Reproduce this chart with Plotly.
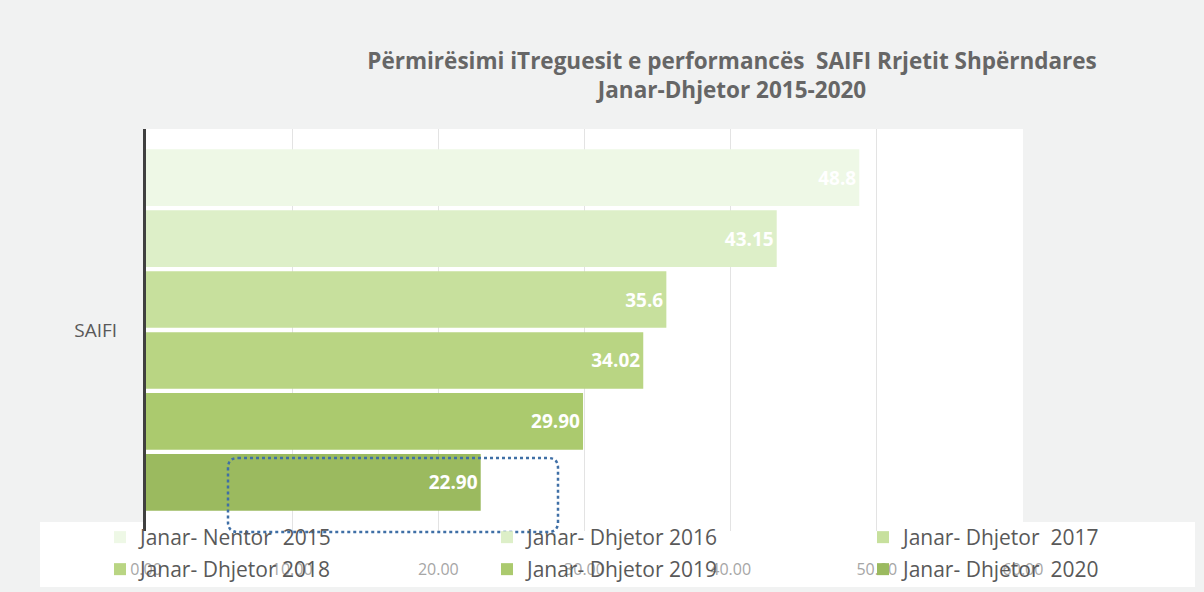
import plotly.graph_objects as go

# ---- data ----
categories = ["SAIFI"]
series_names = [
    "Janar- Nentor  2015",
    "Janar- Dhjetor 2016",
    "Janar- Dhjetor  2017",
    "Janar- Dhjetor 2018",
    "Janar- Dhjetor 2019",
    "Janar- Dhjetor  2020",
]
series_values = [48.80, 43.15, 35.6, 34.02, 29.90, 22.90]
value_labels = ["48.8", "43.15", "35.6", "34.02", "29.90", "22.90"]
x_tick_values = [0, 10, 20, 30, 40, 50, 60]
x_tick_labels = ["0.00", "10.00", "20.00", "30.00", "40.00", "50.00", "60.00"]

colors = ["#eef8e6", "#ddefc8", "#c7e09d", "#b9d583", "#abca6e", "#9bba5f"]

L, R, T, B = 146, 181, 129, 61
W, H = 1204, 592
plot_w = W - L - R
plot_h = H - T - B

def px_to_x(px):
    return (px - L) / plot_w * 60.0

def px_to_py(py):
    return (H - B - py) / plot_h

def px_to_px(px):
    return (px - L) / plot_w

legend_ids = ["legend", "legend2", "legend3", "legend4", "legend5", "legend6"]
# legend slot (text start x, row center y) in pixels
legend_text_x = [140, 527, 903, 140, 527, 903]
legend_row_y = [537, 537, 537, 569, 569, 569]

fig = go.Figure()
for name, val, lab, col, lid in zip(series_names, series_values, value_labels, colors, legend_ids):
    fig.add_trace(go.Bar(
        name=name, y=categories, x=[val], orientation="h",
        marker=dict(color=col, line=dict(width=0)),
        text=[lab], textposition="inside", insidetextanchor="end",
        textfont=dict(color="white", size=19, family="Open Sans"),
        texttemplate="<b>%{text}</b>",
        cliponaxis=False, legend=lid, showlegend=True,
    ))

# rounded dotted rectangle
x0, x1 = px_to_x(228), px_to_x(558)
y0, y1 = px_to_py(532), px_to_py(458)
rx = 10 / plot_w * 60.0
ry = 10 / plot_h
path = (f"M {x0+rx},{y1} L {x1-rx},{y1} Q {x1},{y1} {x1},{y1-ry} "
        f"L {x1},{y0+ry} Q {x1},{y0} {x1-rx},{y0} L {x0+rx},{y0} "
        f"Q {x0},{y0} {x0},{y0+ry} L {x0},{y1-ry} Q {x0},{y1} {x0+rx},{y1} Z")

legend_layouts = {}
for lid, tx, ry_ in zip(legend_ids, legend_text_x, legend_row_y):
    legend_layouts[lid] = dict(
        orientation="h", x=px_to_px(tx - 40), xanchor="left",
        y=px_to_py(ry_ - 20), yanchor="top",
        font=dict(size=21, color="#595959"),
        bgcolor="rgba(0,0,0,0)",
    )

fig.update_layout(
    width=W, height=H,
    showlegend=True,
    margin=dict(l=L, r=R, t=T, b=B, autoexpand=False),
    paper_bgcolor="#f1f2f2",
    plot_bgcolor="white",
    barmode="group",
    bargap=0.09,
    bargroupgap=0.07,
    font=dict(family="Open Sans", color="#595959"),
    title=dict(
        text="<b>Përmirësimi iTreguesit e performancës  SAIFI Rrjetit Shpërndares<br>Janar-Dhjetor 2015-2020</b>",
        x=0.608, xanchor="center", y=0.884, yanchor="top",
        font=dict(size=22.5, color="#666666", family="Open Sans"),
    ),
    xaxis=dict(
        range=[0, 60], tickvals=x_tick_values, ticktext=x_tick_labels,
        showgrid=True, gridcolor="#e3e3e3", gridwidth=1,
        zeroline=False, showline=False,
        tickfont=dict(size=16, color="#a6a6a6"),
        ticks="outside", ticklen=0, ticklabelstandoff=24,
    ),
    yaxis=dict(
        autorange="reversed",
        showline=True, linecolor="#404040", linewidth=3,
        tickfont=dict(size=19, color="#595959"),
        ticklabelstandoff=22, showgrid=False,
    ),
    shapes=[
        dict(type="rect", xref="paper", yref="paper",
             x0=px_to_px(40), x1=px_to_px(1195),
             y0=px_to_py(587), y1=px_to_py(522),
             fillcolor="white", line=dict(width=0), layer="below"),
        dict(type="path", xref="x", yref="paper", path=path,
             line=dict(color="#3f6fa6", width=2.5, dash="dot"),
             fillcolor="rgba(0,0,0,0)", layer="above"),
    ],
    **legend_layouts,
)

fig.write_html("out.html", config={"displayModeBar": False},
               post_script="document.body.style.margin='0';")
